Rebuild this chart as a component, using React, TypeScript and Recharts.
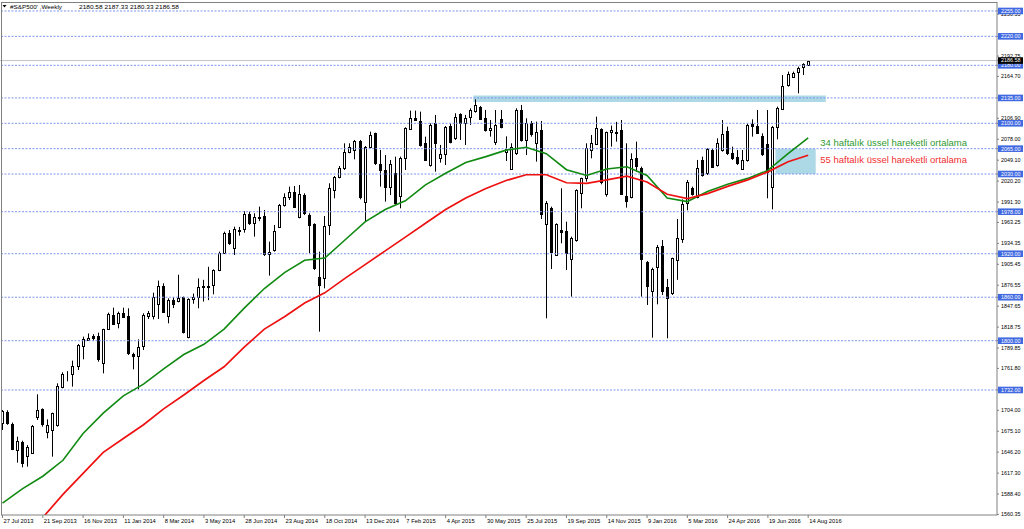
import React from "react";
import {
  ComposedChart,
  Bar,
  Line,
  XAxis,
  YAxis,
  ReferenceLine,
  ReferenceArea,
  ReferenceDot,
} from "recharts";

// weekly candles, 27 Jul 2013 .. 14 Aug 2016
const opens = [
  1686, 1702, 1685, 1649.2, 1660.7, 1640.9, 1645.5, 1695.2, 1705.3, 1674.5,
  1676.8, 1683.7, 1736.6, 1753.6, 1753.6, 1765.6, 1792.7, 1801, 1806.5, 1806.5,
  1769.7, 1815.7, 1835, 1824, 1837.8, 1834.1, 1781.7, 1778.9, 1792.7, 1834.6,
  1834.6, 1850, 1875.5, 1834.1, 1856.2, 1855, 1860.8, 1805.6, 1858, 1860.8,
  1874, 1873.7, 1876.9, 1897.6, 1921.5, 1949.1, 1927.5, 1952.8, 1953.7, 1974.9,
  1962, 1969, 1972.1, 1919.2, 1925.2, 1957.4, 1987.3, 1998.8, 2005.7, 1970.3,
  2001.1, 1973.5, 1960.6, 1888.4, 1886.1, 1959.7, 2008, 2026.4, 2037.9, 2060.9,
  2063.2, 2075.6, 1991.9, 2067.8, 2086.2, 2043.9, 2035.6, 2011.7, 2031.9, 2000,
  2051.7, 2091.7, 2106.9, 2103.7, 2072.4, 2042.5, 2100, 2051.7, 2057.7, 2096.3,
  2079.3, 2112.4, 2100, 2109.2, 2117.5, 2123, 2106.9, 2090.8, 2074.7, 2105.5,
  2060, 2037, 2058.6, 2118.4, 2077, 2100, 2072.4, 2090.8, 1960.6, 1983.6,
  1918.3, 1952.8, 1951.4, 1912.8, 1939, 2003.4, 2024.1, 2063.2, 2071, 2092.2,
  2002, 2088.5, 2088.5, 2090.8, 1999.7, 1998.8, 2051.7, 2038.8, 1909.1, 1868.6,
  1902.2, 1931.2, 1874.6, 1865.4, 1912, 1940, 1989.6, 2010.3, 1998.8, 2049.4,
  2031, 2063.2, 2042.5, 2063.2, 2089.4, 2059.5, 2054, 2036.5, 2049.4, 2099.1,
  2096.3, 2082.5, 2071, 2012.6, 2095.4, 2119.3, 2152.9, 2164.4, 2171.3, 2178.2,
  2180.58,
];
const highs = [
  1704.4, 1704, 1687, 1667.6, 1662, 1656, 1683.7, 1726, 1706.7, 1691.5,
  1700.7, 1741.2, 1756.4, 1758, 1772.5, 1795.5, 1805.6, 1810, 1809, 1811.1,
  1816.5, 1838.7, 1845.6, 1840.1, 1845.6, 1844.7, 1783.5, 1801.9, 1837.8, 1841,
  1866.3, 1883, 1879.2, 1858.5, 1860, 1891, 1861, 1858.5, 1865, 1886,
  1884, 1902, 1898.5, 1923, 1950.5, 1952.8, 1957.4, 1957, 1979, 1978.1,
  1975.8, 1985, 1980.4, 1936.7, 1959.7, 1988.7, 2003.4, 2012.6, 2013.5, 2014.9,
  2003.4, 1975.8, 1962, 1922.9, 1972.1, 2017.2, 2027.3, 2041.1, 2072.4, 2072.4,
  2077, 2077, 2068.7, 2088.5, 2087.1, 2063.2, 2056.3, 2049.4, 2054, 2054,
  2094.5, 2117.5, 2117.5, 2116.1, 2081.6, 2100, 2111.5, 2070.1, 2096.3, 2100,
  2113.8, 2113.8, 2111.5, 2120.7, 2133.1, 2123.9, 2118.4, 2104.6, 2118.4, 2118.4,
  2082, 2072.4, 2120.7, 2125.3, 2106.9, 2103.2, 2102.3, 2103.2, 1992.8, 1985,
  1962, 2010.3, 1964.3, 1943.6, 2008.9, 2025, 2072.4, 2083.9, 2109.2, 2093.1,
  2088.5, 2096.8, 2102, 2104.6, 2072.4, 2058.6, 2074.7, 2040.2, 1910, 1900.8,
  1932.1, 1939, 1885.2, 1914.6, 1968, 1995, 2021.8, 2012.6, 2049.4, 2054,
  2065.5, 2065.5, 2079.3, 2104.6, 2095.4, 2067.8, 2063.2, 2063.2, 2100, 2105.5,
  2118.4, 2086.2, 2118.4, 2096.3, 2123, 2166.7, 2171.3, 2171.3, 2178.2, 2182.8,
  2187.33,
];
const lows = [
  1676.8, 1684, 1649, 1631.7, 1625.3, 1626.2, 1644.6, 1690.6, 1681.4, 1665.3,
  1640, 1681.4, 1734.3, 1744, 1736.6, 1759.6, 1774.3, 1800, 1800, 1771.1,
  1755, 1814.8, 1821.7, 1817.1, 1832, 1780.3, 1760.5, 1732.9, 1787.2, 1830,
  1829.5, 1830, 1838.7, 1824, 1845, 1853, 1810, 1803.3, 1851, 1844.7,
  1854, 1856, 1864, 1896, 1919.7, 1932.1, 1918.3, 1945, 1949.1, 1959.7,
  1943.6, 1965, 1916.9, 1889.8, 1922.9, 1956.5, 1985, 1994.2, 1984, 1968.9,
  1973.5, 1920.6, 1897.6, 1812.5, 1872.3, 1945.9, 1996.5, 2024.1, 2035.6, 2058.6,
  2050.3, 1995.1, 1964.3, 2065.5, 2042.5, 2012.6, 1991.9, 2001.1, 1987.3, 1982.7,
  2035.6, 2090.8, 2103.7, 2067.8, 2048.5, 2040.2, 2033.3, 2045.7, 2042.5, 2072.4,
  2077, 2077, 2070.1, 2097.7, 2114.7, 2104.6, 2088.5, 2081.6, 2070.1, 2093.1,
  2048, 2035.6, 2056.3, 2074.7, 2056.3, 2081.6, 2047.1, 1968, 1830.9, 1899,
  1917.4, 1934.4, 1897.6, 1860.8, 1936.7, 1982.7, 2019.5, 2051.7, 2070.1, 2015.8,
  1998.8, 2067.8, 2074.7, 2001.1, 1983.6, 1996.5, 2033.3, 1860.8, 1849.3, 1804.2,
  1850.2, 1863.1, 1803.3, 1863.1, 1884, 1935, 1980, 2000.2, 1996.5, 2026.4,
  2028.7, 2039.3, 2040.2, 2060.9, 2056.3, 2049.4, 2042.5, 2035.6, 2047.1, 2081.6,
  2086.2, 2054.9, 1996.5, 1981.3, 2077.9, 2118.4, 2150.6, 2163.5, 2141.4, 2166.7,
  2180.33,
];
const closes = [
  1703, 1686, 1650, 1662, 1631.7, 1653.8, 1682.8, 1704.4, 1685, 1683.7,
  1699.8, 1737.5, 1754.1, 1754.5, 1765.6, 1794.1, 1801.9, 1803.8, 1804.2, 1774.3,
  1815.7, 1836.9, 1823.1, 1837.8, 1833.2, 1783.5, 1778.9, 1791.8, 1835.5, 1837.8,
  1859.9, 1876, 1840.1, 1856.2, 1850.2, 1859, 1812.5, 1857.1, 1860, 1874.6,
  1876, 1875.5, 1897.6, 1920.6, 1948.2, 1935.3, 1953.7, 1951.4, 1974.9, 1962,
  1971.2, 1971, 1919.7, 1922.9, 1951.9, 1987.3, 1998.8, 2005.7, 1985, 2002.5,
  1975.8, 1959.7, 1899.9, 1876.9, 1958.3, 2010.3, 2025.5, 2037.9, 2060.9, 2066.9,
  2075.6, 1997.9, 2067.8, 2083.9, 2044.8, 2035.6, 2011.7, 2043.9, 1989.6, 2051.7,
  2093.1, 2106.9, 2104.6, 2070.1, 2049.4, 2097.7, 2072.4, 2057.7, 2095.4, 2074.7,
  2109.2, 2100, 2106.9, 2118.4, 2125.3, 2105.5, 2090.8, 2093.1, 2097.7, 2095.4,
  2065, 2067.8, 2118.4, 2077, 2100, 2084.8, 2088.5, 1974.4, 1989.6, 1922,
  1960.6, 1950.5, 1920.6, 1942.2, 2008, 2024.1, 2066.4, 2072.4, 2093.1, 2018.6,
  2087.6, 2090.8, 2086.7, 2002, 1993.3, 2050.3, 2041.6, 1912.8, 1876, 1899,
  1929.8, 1868.6, 1858.5, 1913.7, 1942.2, 1988, 2019.5, 2002.5, 2037.9, 2028.7,
  2064.1, 2040.2, 2072.4, 2084.8, 2058.6, 2051.7, 2044.8, 2049.4, 2097.7, 2096.3,
  2087.1, 2057.7, 2033.3, 2094.5, 2120.7, 2151.5, 2168.1, 2169.9, 2175.9, 2181.9,
  2186.58,
];

// moving averages, read every 4th week
const ema34 = [
  1576, 1596, 1613, 1635, 1672, 1700, 1724, 1740, 1761, 1781, 1795, 1816, 1845,
  1872, 1894, 1911, 1914, 1939, 1964, 1981, 1993, 2015, 2031, 2046, 2054, 2063,
  2067, 2058, 2036, 2028, 2037, 2040, 2028, 1997, 1992, 2006, 2016, 2024, 2035,
  2058, 2080,
];
const ema55 = [
  1500, 1528, 1556, 1588, 1617, 1646, 1665, 1684, 1706, 1725, 1745, 1764, 1791,
  1816, 1833, 1852, 1866, 1886, 1905, 1924, 1943, 1962, 1981, 1997, 2010, 2021,
  2029, 2029, 2018, 2017, 2022, 2027, 2019, 2002, 1996, 2003, 2013, 2022, 2033,
  2047, 2056,
];

const xLabels = [
  "27 Jul 2013", "21 Sep 2013", "16 Nov 2013", "11 Jan 2014", "8 Mar 2014",
  "3 May 2014", "28 Jun 2014", "23 Aug 2014", "18 Oct 2014", "13 Dec 2014",
  "7 Feb 2015", "4 Apr 2015", "30 May 2015", "25 Jul 2015", "19 Sep 2015",
  "14 Nov 2015", "9 Jan 2016", "5 Mar 2016", "24 Apr 2016", "19 Jun 2016",
  "14 Aug 2016",
];

const scaleTicks = [
  1560.35, 1588.4, 1617.3, 1646.2, 1675.1, 1704.0, 1761.8, 1789.85, 1818.75,
  1847.65, 1876.55, 1905.45, 1934.35, 1963.25, 1991.3, 2020.2, 2049.1, 2078.0,
  2106.9, 2164.7, 2192.75, 2250.55,
];
const levels = [2255, 2220, 2180, 2135, 2100, 2065, 2030, 1978, 1920, 1860, 1800, 1732];
const lastPrice = 2186.58;

const SLOTS = 198; // bars + empty shift on the right
const FONT = "'Liberation Sans', Arial, sans-serif";

const data = Array.from({ length: SLOTS }, (_, i) => {
  const has = i < opens.length;
  return {
    i,
    o: has ? opens[i] : null,
    h: has ? highs[i] : null,
    l: has ? lows[i] : null,
    c: has ? closes[i] : null,
    range: has ? [lows[i], highs[i]] : null,
    e34: i % 4 === 0 && i / 4 < ema34.length ? ema34[i / 4] : null,
    e55: i % 4 === 0 && i / 4 < ema55.length ? ema55[i / 4] : null,
  };
});

const xTickIdx = xLabels.map((_, k) => k * 8);
const yTicks = [...scaleTicks, ...levels, lastPrice];

function Candle(props: any) {
  const { x, y, width, height, payload } = props;
  if (!payload || payload.o == null || height == null) return null;
  const top = Math.min(y, y + height);
  const bottom = Math.max(y, y + height);
  const span = payload.h - payload.l;
  const k = span > 0 ? (bottom - top) / span : 0;
  const yO = top + (payload.h - payload.o) * k;
  const yC = top + (payload.h - payload.c) * k;
  const cx = Math.floor(x + width / 2) + 0.5;
  const bTop = Math.round(Math.min(yO, yC)) + 0.5;
  const bBot = Math.round(Math.max(yO, yC)) + 0.5;
  const up = payload.c >= payload.o;
  return (
    <g>
      <line x1={cx} x2={cx} y1={top} y2={bottom} stroke="#000" strokeWidth={1} />
      <rect
        x={cx - 1}
        y={bTop}
        width={2}
        height={Math.max(bBot - bTop, 0)}
        fill={up ? "#fff" : "#000"}
        stroke="#000"
        strokeWidth={1}
      />
    </g>
  );
}

function XTick(props: any) {
  const { x, y, payload } = props;
  const label = xLabels[payload.value / 8];
  if (!label) return null;
  return (
    <text x={x + 1} y={y + 4} fontSize={5.8} fill="#000" fontFamily={FONT} textAnchor="start">
      {label}
    </text>
  );
}

function YTick(props: any) {
  const { x, y, payload } = props;
  const v = payload.value;
  const txt = v.toFixed(2);
  const isLast = v === lastPrice;
  const isLevel = levels.includes(v);
  if (isLast || isLevel) {
    return (
      <g>
        <rect x={x - 3} y={y - 3.3} width={25} height={6.6} fill={isLast ? "#000" : "#4169e1"} />
        <text x={x} y={y} dy="0.36em" fontSize={5.4} fill="#fff" fontFamily={FONT}>
          {txt}
        </text>
      </g>
    );
  }
  return (
    <text x={x} y={y} dy="0.36em" fontSize={5.4} fill="#000" fontFamily={FONT}>
      {txt}
    </text>
  );
}

export default function App() {
  return (
    <div
      style={{
        position: "absolute",
        left: 0,
        top: 0,
        width: 1024,
        height: 529,
        background: "#fff",
        fontFamily: FONT,
      }}
    >
      <ComposedChart
        width={1024}
        height={529}
        data={data}
        margin={{ top: 3, right: 0, bottom: 0, left: 0 }}
        barCategoryGap={0}
      >
        <XAxis
          dataKey="i"
          type="category"
          ticks={xTickIdx}
          interval={0}
          tick={<XTick />}
          tickSize={3}
          tickMargin={1}
          tickLine={{ stroke: "#808080" }}
          axisLine={false}
          height={14}
        />
        <YAxis
          orientation="right"
          type="number"
          domain={[1559.5, 2266]}
          allowDataOverflow
          ticks={yTicks}
          interval={0}
          tick={<YTick />}
          tickSize={2}
          tickMargin={2}
          tickLine={{ stroke: "#808080" }}
          axisLine={false}
          width={27}
        />
        <ReferenceArea x1={94} x2={163} y1={2129.5} y2={2138.5} fill="#add8e6" fillOpacity={1} stroke="none" />
        <ReferenceArea x1={154} x2={161} y1={2030} y2={2065} fill="#add8e6" fillOpacity={1} stroke="none" />
        {levels.map((lv) => (
          <ReferenceLine key={lv} y={lv} stroke="#7d95ee" strokeDasharray="2 1.5" strokeWidth={1} />
        ))}
        <ReferenceLine y={lastPrice} stroke="#c4c4c4" strokeWidth={1} />
        <Bar
          dataKey="range"
          barSize={3}
          isAnimationActive={false}
          shape={(p: any) => <Candle {...p} />}
        />
        <Line
          dataKey="e34"
          type="linear"
          stroke="#118a11"
          strokeWidth={1.6}
          dot={false}
          connectNulls
          isAnimationActive={false}
        />
        <Line
          dataKey="e55"
          type="linear"
          stroke="#ee1111"
          strokeWidth={1.7}
          dot={false}
          connectNulls
          isAnimationActive={false}
        />
        <ReferenceDot
          x={162}
          y={2073}
          r={1}
          fillOpacity={0}
          strokeOpacity={0}
          label={{
            value: "34 haftalık üssel hareketli ortalama",
            position: "right",
            offset: 1,
            fill: "#2f9a2f",
            fontSize: 9.5,
          }}
        />
        <ReferenceDot
          x={162}
          y={2049.5}
          r={1}
          fillOpacity={0}
          strokeOpacity={0}
          label={{
            value: "55 haftalık üssel hareketli ortalama",
            position: "right",
            offset: 1,
            fill: "#f03030",
            fontSize: 9.5,
          }}
        />
      </ComposedChart>
      <svg
        width={1024}
        height={529}
        style={{ position: "absolute", left: 0, top: 0, pointerEvents: "none" }}
      >
        <rect x={1.5} y={2.5} width={995.5} height={512.5} fill="none" stroke="#808080" strokeWidth={1} />
        <path d="M2.5 5 L6.5 5 L4.5 7.5 Z" fill="#000" />
        <text x={10} y={8.5} fontSize={6} fill="#000" fontFamily={FONT} textLength={52} lengthAdjust="spacingAndGlyphs">
          #S&amp;P500' ,Weekly
        </text>
        <text x={79} y={8.5} fontSize={6} fill="#000" fontFamily={FONT} textLength={100} lengthAdjust="spacingAndGlyphs">
          2180.58 2187.33 2180.33 2186.58
        </text>
      </svg>
    </div>
  );
}
